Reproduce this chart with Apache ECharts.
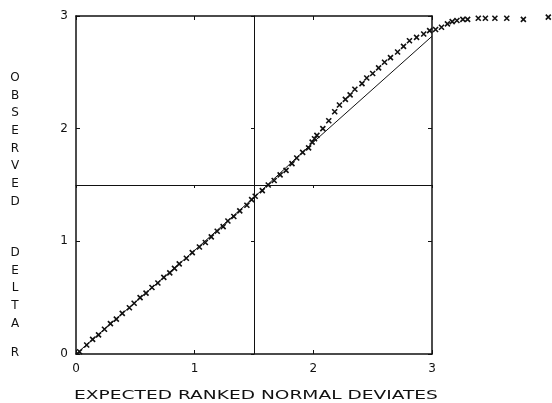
<!DOCTYPE html>
<html>
<head>
<meta charset="utf-8">
<script src="https://cdn.jsdelivr.net/npm/echarts@6/dist/echarts.min.js"></script>
<style>
  html, body { margin: 0; padding: 0; background: #fff; }
  #chart-container { width: 552px; height: 403px; }
</style>
</head>
<body>
<div id="chart-container"></div>
<script>
// reference line (expected)
var lineX = [0, 1.0, 1.5, 2.0, 3.0];
var lineY = [0, 0.92, 1.39, 1.88, 2.82];

// observed points (x markers)
var pointsX = [
  0.03, 0.09, 0.14, 0.19, 0.24, 0.29, 0.34, 0.39, 0.45, 0.49,
  0.54, 0.59, 0.64, 0.69, 0.74, 0.79, 0.83, 0.87, 0.93, 0.98,
  1.04, 1.09, 1.14, 1.19, 1.24, 1.28, 1.33, 1.38, 1.44, 1.48,
  1.51, 1.57, 1.62, 1.67, 1.72, 1.77, 1.82, 1.86, 1.91, 1.96,
  1.99, 2.01, 2.03, 2.08, 2.13, 2.18, 2.22, 2.27, 2.31, 2.35,
  2.41, 2.45, 2.50, 2.55, 2.60, 2.65, 2.71, 2.76, 2.81, 2.87,
  2.93, 2.98, 3.03, 3.08, 3.13, 3.17, 3.21, 3.26, 3.30, 3.39,
  3.45, 3.53, 3.63, 3.77, 3.98
];
var pointsY = [
  0.02, 0.08, 0.13, 0.17, 0.22, 0.27, 0.31, 0.36, 0.41, 0.45,
  0.50, 0.54, 0.59, 0.63, 0.68, 0.72, 0.76, 0.80, 0.85, 0.90,
  0.95, 0.99, 1.04, 1.09, 1.13, 1.18, 1.22, 1.27, 1.32, 1.37,
  1.40, 1.45, 1.50, 1.54, 1.59, 1.63, 1.69, 1.74, 1.79, 1.83,
  1.88, 1.91, 1.94, 2.00, 2.07, 2.15, 2.21, 2.26, 2.30, 2.35,
  2.40, 2.45, 2.49, 2.54, 2.59, 2.63, 2.68, 2.73, 2.78, 2.81,
  2.84, 2.87, 2.88, 2.90, 2.93, 2.95, 2.96, 2.97, 2.97, 2.98,
  2.98, 2.98, 2.98, 2.97, 2.99
];

var xName = "EXPECTED RANKED NORMAL DEVIATES";
var yNameParts = ["OBSERVED", "DELTA", "R"];

var ink = "#111";
var font = "DejaVu Sans";

var dom = document.getElementById("chart-container");
var myChart = echarts.init(dom, null, { renderer: "canvas" });

function pairs(xs, ys) {
  return xs.map(function (x, i) { return [x, ys[i]]; });
}

function axisBase(extra) {
  return Object.assign({
    type: "value",
    min: 0,
    max: 3,
    interval: 1,
    splitLine: { show: false },
    axisLine: { show: true, onZero: false, lineStyle: { color: ink, width: 1.5 } },
    axisTick: { show: true, inside: true, length: 4, lineStyle: { color: ink, width: 1 } },
    axisLabel: { show: false },
  }, extra);
}

var labelStyle = { color: ink, fontFamily: font, fontSize: 12 };
var midLine = { show: true, onZero: false, lineStyle: { color: ink, width: 1 } };
var midTick = { show: true, inside: false, length: 3, lineStyle: { color: ink } };

var option = {
  backgroundColor: "#fff",
  animation: false,
  grid: { left: 76, right: 120, top: 16, bottom: 49 },
  xAxis: [
    axisBase({ position: "bottom", axisLabel: Object.assign({ show: true, margin: 9 }, labelStyle) }),
    axisBase({ position: "top" }),
    axisBase({ position: "bottom", offset: -169, axisLine: midLine, axisTick: midTick }),
  ],
  yAxis: [
    axisBase({ position: "left", axisLabel: Object.assign({ show: true, margin: 8 }, labelStyle) }),
    axisBase({ position: "right" }),
    axisBase({ position: "left", offset: -178, axisLine: midLine, axisTick: midTick }),
  ],
  series: [
    {
      type: "line",
      data: pairs(lineX, lineY),
      symbol: "none",
      lineStyle: { color: ink, width: 1 },
    },
    {
      type: "scatter",
      data: pairs(pointsX, pointsY),
      clip: false,
      symbol: "path://M0,0L10,10M10,0L0,10",
      symbolSize: 5,
      itemStyle: { color: "rgba(0,0,0,0)", borderColor: ink, borderWidth: 1.6, opacity: 1 },
    },
  ],
  graphic: [
    {
      type: "text", x: 256, y: 396, scaleX: 1.55,
      style: { text: xName, font: "12px " + font, fill: ink, align: "center", verticalAlign: "middle" },
    },
    {
      type: "text", x: 15, y: 69,
      style: { text: yNameParts[0].split("").join("\n"), font: "12px " + font, fill: ink,
        align: "center", verticalAlign: "top", lineHeight: 17.7 },
    },
    {
      type: "text", x: 15, y: 244,
      style: { text: yNameParts[1].split("").join("\n"), font: "12px " + font, fill: ink,
        align: "center", verticalAlign: "top", lineHeight: 17.7 },
    },
    {
      type: "text", x: 15, y: 344,
      style: { text: yNameParts[2], font: "12px " + font, fill: ink,
        align: "center", verticalAlign: "top", lineHeight: 17.7 },
    },
  ],
};

myChart.setOption(option);
window.addEventListener("resize", myChart.resize);
</script>
</body>
</html>
